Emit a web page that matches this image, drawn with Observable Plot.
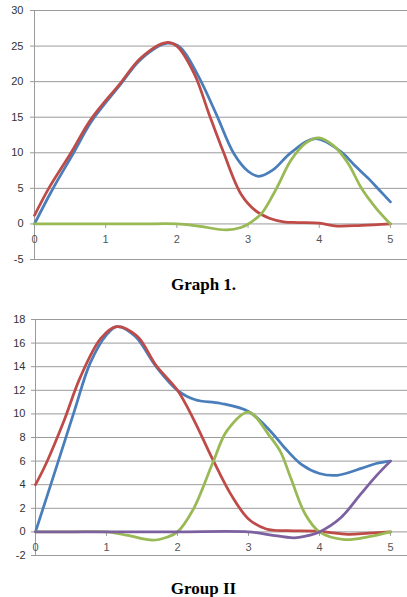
<!DOCTYPE html>
<html><head><meta charset="utf-8">
<script src="https://cdn.jsdelivr.net/npm/d3@7"></script>
<script src="https://cdn.jsdelivr.net/npm/@observablehq/plot@0.6"></script>
<style>
body{margin:0;background:#fff;width:407px;height:597px;overflow:hidden;position:relative;}
.chart{position:absolute;left:0;}
.title{position:absolute;left:0;width:407px;text-align:center;font:bold 17px "Liberation Serif","Times New Roman",serif;line-height:17px;color:#000;}
</style></head><body>
<div id="c1" class="chart" style="top:0px"></div>
<div class="title" style="top:276px">Graph 1.</div>
<div id="c2" class="chart" style="top:309px"></div>
<div class="title" style="top:580px">Group II</div>
<script>
// ---- Graph 1 data ----
const g1TicksY = [-5, 0, 5, 10, 15, 20, 25, 30];
const g1TicksX = [0, 1, 2, 3, 4, 5];
const g1BlueX = [0,0.25,0.55,0.8,1.2,1.5,1.87,2.05,2.3,2.55,2.8,3.0,3.15,3.35,3.6,3.95,4.3,4.5,4.7,4.85,5];
const g1BlueY = [0,4.8,10,14.4,19.5,23.2,25.4,24.8,20.8,15.5,9.9,7.4,6.7,7.6,10.0,12.0,10.2,8.2,6.3,4.7,3.1];
const g1RedX = [0,0.2,0.5,0.8,1.2,1.5,1.85,2.0,2.25,2.45,2.65,2.9,3.1,3.3,3.5,3.7,4,4.25,4.6,5];
const g1RedY = [1.2,5,9.8,14.8,19.7,23.4,25.5,25.0,21.0,15.5,10.2,4.2,1.9,0.8,0.3,0.2,0.1,-0.3,-0.2,0];
const g1GreenX = [0,0.5,1,1.5,2,2.3,2.7,2.9,3.05,3.2,3.4,3.6,3.8,4.0,4.2,4.4,4.6,4.8,5];
const g1GreenY = [0,0,0,0,0,-0.3,-0.85,-0.5,0.3,1.6,5.0,8.9,11.3,12.1,11.0,8.6,4.9,2.2,0];

// ---- Group II data ----
const g2TicksY = [-2, 0, 2, 4, 6, 8, 10, 12, 14, 16, 18];
const g2TicksX = [0, 1, 2, 3, 4, 5];
const g2BlueX = [0,0.3,0.55,0.77,1.0,1.15,1.4,1.7,2.0,2.25,2.6,3.0,3.3,3.5,3.75,4.0,4.25,4.6,4.8,5];
const g2BlueY = [0,5.6,10.3,14.3,16.7,17.4,16.6,14.0,12.0,11.2,10.9,10.2,8.6,7.2,5.7,4.95,4.8,5.4,5.8,6.0];
const g2RedX = [0,0.15,0.4,0.63,0.92,1.14,1.43,1.7,2.0,2.23,2.5,2.75,3.0,3.25,3.55,4,4.4,4.7,5];
const g2RedY = [4.0,5.8,9.4,13.1,16.4,17.4,16.6,14.1,12.0,9.5,6.1,3.2,1.1,0.25,0.1,0.05,-0.2,-0.1,0];
const g2GreenX = [0,0.5,1,1.3,1.65,1.85,2.0,2.23,2.5,2.7,3.0,3.3,3.45,3.6,3.8,4.0,4.35,4.7,5];
const g2GreenY = [0,0,0,-0.3,-0.7,-0.45,0,2.0,5.9,8.6,10.15,8.1,6.8,4.5,1.5,0,-0.65,-0.4,0];
const g2PurpleX = [0,1,2,3,3.3,3.64,3.85,4.0,4.3,4.58,4.8,5];
const g2PurpleY = [0,0,0,0,-0.25,-0.5,-0.3,0,1.2,3.2,4.75,6.0];

const BLUE = "#4a7ebb", RED = "#be4b48", GREEN = "#98b954", PURPLE = "#7d60a0";
const pts = (xs, ys) => xs.map((x, i) => ({x, y: ys[i]}));

function chart({series, yTicks, xTicks, yDomain, height, marginTop, marginBottom, marginLeft, tickPadding}) {
  const tickMark = {draw(ctx) { ctx.moveTo(0, 0); ctx.lineTo(0, 4); }};
  return Plot.plot({
    width: 407, height, marginTop, marginBottom, marginLeft, marginRight: 0,
    x: {domain: [0, 5.24], axis: null},
    y: {domain: yDomain},
    style: {fontFamily: "'Liberation Sans', Arial, sans-serif", fontSize: "11px", background: "transparent", overflow: "visible"},
    marks: [
      Plot.ruleY(yTicks, {stroke: "#9a9a9a", strokeWidth: 1}),
      Plot.ruleX([0], {stroke: "#9a9a9a", strokeWidth: 1}),
      Plot.axisY({ticks: yTicks, tickSize: 4, tickPadding, stroke: "#9a9a9a", fill: "#333", label: null, tickFormat: d => String(d)}),
      Plot.dot(xTicks, {x: d => d, y: 0, symbol: tickMark, stroke: "#9a9a9a", strokeWidth: 1}),
      Plot.text(xTicks, {x: d => d, y: 0, dy: 16, text: d => String(d), fill: "#555"}),
      ...series.map(s => Plot.line(s.data, {x: "x", y: "y", stroke: s.color, strokeWidth: 2.75, curve: "catmull-rom", strokeLinejoin: "round", strokeLinecap: "round"}))
    ]
  });
}

document.getElementById("c1").append(chart({
  series: [
    {data: pts(g1BlueX, g1BlueY), color: BLUE},
    {data: pts(g1RedX, g1RedY), color: RED},
    {data: pts(g1GreenX, g1GreenY), color: GREEN}
  ],
  yTicks: g1TicksY, xTicks: g1TicksX, yDomain: [-5, 30],
  height: 272, marginTop: 10, marginBottom: 13, marginLeft: 34, tickPadding: 7
}));

document.getElementById("c2").append(chart({
  series: [
    {data: pts(g2BlueX, g2BlueY), color: BLUE},
    {data: pts(g2RedX, g2RedY), color: RED},
    {data: pts(g2GreenX, g2GreenY), color: GREEN},
    {data: pts(g2PurpleX, g2PurpleY), color: PURPLE}
  ],
  yTicks: g2TicksY, xTicks: g2TicksX, yDomain: [-2, 18],
  height: 260, marginTop: 10, marginBottom: 14, marginLeft: 35, tickPadding: 6
}));
</script></body></html>
